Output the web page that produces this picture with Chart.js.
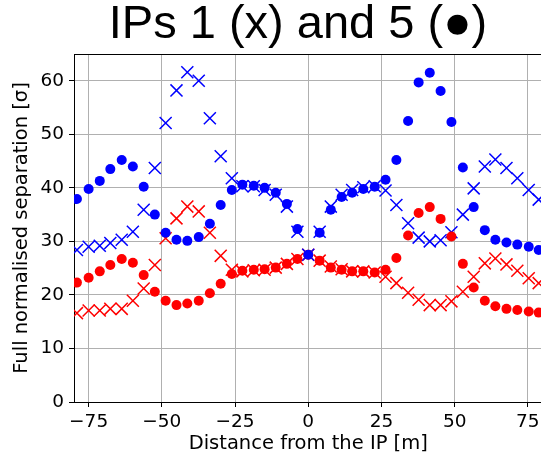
<!DOCTYPE html>
<html>
<head>
<meta charset="utf-8">
<script src="https://cdn.jsdelivr.net/npm/chart.js@4.4.1/dist/chart.umd.min.js"></script>
<style>
html,body{margin:0;padding:0;background:#fff;overflow:hidden;width:541px;height:457px;}
canvas{display:block;}
</style>
</head>
<body>
<canvas id="c" width="545" height="457" style="width:545px;height:457px"></canvas>
<script>
// Distance from the IP [m]
const positions = [-79.0,-75.0,-71.2,-67.6,-63.7,-59.9,-56.2,-52.4,-48.7,-45.0,-41.3,-37.4,-33.6,-29.9,-26.1,-22.5,-18.6,-14.9,-11.1,-7.3,-3.7,0,3.9,7.7,11.4,15.0,18.8,22.7,26.4,30.1,34.1,37.7,41.5,45.2,48.9,52.8,56.5,60.3,63.9,67.7,71.4,75.3,78.7];
// IP5 (dots)
const ip5Blue = [37.9,39.8,41.3,43.5,45.2,44.0,40.2,35.0,31.6,30.3,30.1,30.8,33.3,36.8,39.6,40.6,40.4,40.0,39.1,37.0,32.3,27.5,31.6,35.9,38.3,39.1,39.8,40.2,41.5,45.2,52.5,59.7,61.5,58.1,52.3,43.8,36.4,32.1,30.3,29.8,29.4,29.0,28.4];
const ip5Red  = [22.3,23.2,24.4,25.6,26.7,26.0,23.7,20.6,18.9,18.1,18.4,18.9,20.3,22.1,23.9,24.5,24.7,24.8,25.1,25.8,26.7,27.5,26.4,25.1,24.7,24.4,24.4,24.2,24.7,26.9,31.1,35.3,36.4,34.2,30.9,25.8,21.4,18.9,17.9,17.4,17.2,16.9,16.7];
// IP1 (crosses)
const ip1Blue = [28.4,29.0,29.2,29.7,30.3,31.8,35.9,43.7,52.1,58.2,61.6,60.0,53.0,45.9,41.8,40.3,40.3,39.6,38.7,36.5,31.8,27.5,31.8,36.5,38.7,39.6,40.1,40.3,39.5,36.8,33.4,30.7,30.0,30.2,31.7,35.0,39.9,44.0,45.3,43.7,41.8,39.6,37.8];
const ip1Red  = [16.6,17.1,17.1,17.4,17.4,18.9,21.2,25.6,30.6,34.3,36.5,35.6,31.6,27.3,24.7,24.4,24.6,24.7,25.1,25.8,26.7,27.5,26.4,25.3,24.8,24.4,24.4,24.2,23.4,22.2,20.4,19.1,18.1,18.1,18.8,20.6,23.4,25.9,26.8,25.7,24.5,23.1,22.2];
const xTicks = [-75,-50,-25,0,25,50,75];
const yTicks = [0,10,20,30,40,50,60];
const titleText = 'IPs 1 (x) and 5 (\u25CF)';
const xLabel = 'Distance from the IP [m]';
const yLabel = 'Full normalised separation [\u03C3]';

function pts(ys){ return positions.map((x,i)=>({x:x,y:ys[i]})); }

const frameAndTitle = {
  id:'frameAndTitle',
  afterDraw(chart){
    const ctx = chart.ctx, a = chart.chartArea;
    ctx.save();
    ctx.strokeStyle = '#000'; ctx.lineWidth = 1;
    ctx.beginPath();
    ctx.moveTo(a.left, Math.round(a.top)+0.5);
    ctx.lineTo(a.right, Math.round(a.top)+0.5);
    ctx.stroke();
    ctx.fillStyle = '#000';
    ctx.font = '47px "Liberation Sans"';
    ctx.textAlign = 'center';
    ctx.textBaseline = 'alphabetic';
    ctx.fillText(titleText, 298, 38);
    ctx.restore();
  }
};

const tickFont = {family:'"DejaVu Sans"', size:18.5};
new Chart(document.getElementById('c'), {
  type:'scatter',
  data:{datasets:[
    {label:'IP5 blue', data:pts(ip5Blue), pointStyle:'circle', pointRadius:5, backgroundColor:'#0000ff', borderColor:'#0000ff', borderWidth:0, order:0},
    {label:'IP5 red', data:pts(ip5Red), pointStyle:'circle', pointRadius:5, backgroundColor:'#ff0000', borderColor:'#ff0000', borderWidth:0, order:1},
    {label:'IP1 blue', data:pts(ip1Blue), pointStyle:'crossRot', pointRadius:8.5, backgroundColor:'#0000ff', borderColor:'#0000ff', borderWidth:1.5, order:2},
    {label:'IP1 red', data:pts(ip1Red), pointStyle:'crossRot', pointRadius:8.5, backgroundColor:'#ff0000', borderColor:'#ff0000', borderWidth:1.5, order:3}
  ]},
  options:{
    responsive:false, animation:false, devicePixelRatio:1,
    layout:{autoPadding:false, padding:{top:54,left:0,right:2.5,bottom:0}},
    plugins:{legend:{display:false}, tooltip:{enabled:false}, title:{display:false}},
    events:[],
    scales:{
      x:{type:'linear', min:-80, max:80,
        afterBuildTicks(s){ s.ticks = xTicks.map(v=>({value:v})); },
        afterFit(s){ s.height = 55; s.paddingLeft = 0; s.paddingRight = 0; },
        ticks:{font:tickFont, color:'#000', padding:4, maxRotation:0, autoSkip:false,
          callback:(v)=>String(v).replace('-','\u2212')},
        grid:{color:'#b0b0b0', lineWidth:1, tickColor:'#000', tickLength:5},
        border:{color:'#000', width:1},
        title:{display:true, text:xLabel, color:'#000', font:{family:'"DejaVu Sans"', size:19.5, lineHeight:1.2}, padding:{top:0,bottom:1.3}}
      },
      y:{type:'linear', min:0, max:65,
        afterBuildTicks(s){ s.ticks = yTicks.map(v=>({value:v})); },
        afterFit(s){ s.width = 74; s.paddingTop = 0; s.paddingBottom = 0; },
        ticks:{font:tickFont, color:'#000', padding:5, autoSkip:false},
        grid:{color:'#b0b0b0', lineWidth:1, tickColor:'#000', tickLength:5},
        border:{color:'#000', width:1},
        title:{display:true, text:yLabel, color:'#000', font:{family:'"DejaVu Sans"', size:19.5, lineHeight:1.2}, padding:{top:10.3,bottom:0}}
      }
    }
  },
  plugins:[frameAndTitle]
});
</script>
</body>
</html>
